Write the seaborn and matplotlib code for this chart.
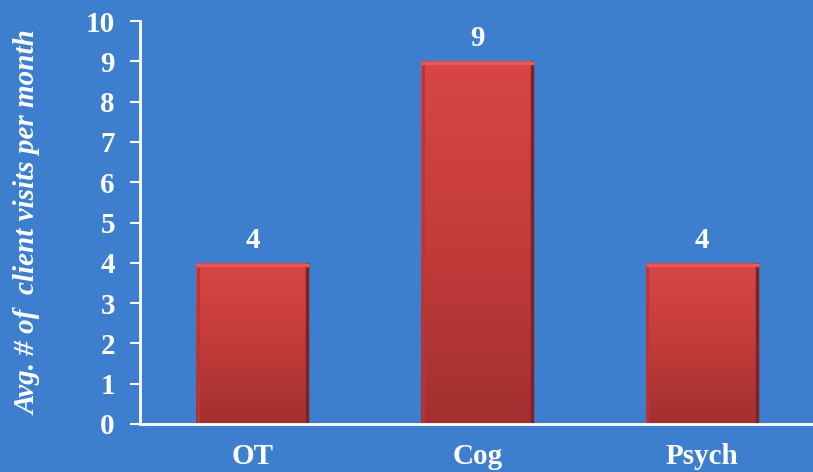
import numpy as np
import pandas as pd
import matplotlib
matplotlib.use("Agg")
import matplotlib.pyplot as plt
import seaborn as sns
from matplotlib.colors import LinearSegmentedColormap

# datos del grafico
categorias = ["OT", "Cog", "Psych"]
visitas = [4, 9, 4]
ticks_y = list(range(0, 11))

fondo = "#3D7FCE"
blanco = "white"

df = pd.DataFrame({"servicio": categorias, "visitas": visitas})

sns.set_theme(style="white")
plt.rcParams["font.family"] = ["Liberation Serif", "DejaVu Serif"]

fig = plt.figure(figsize=(8.13, 4.72), dpi=100, facecolor=fondo)
ax = fig.add_axes([0.1722, 0.1017, 0.8300, 0.8538])
ax.set_facecolor(fondo)

sns.barplot(data=df, x="servicio", y="visitas", color="#C83C3C", width=0.5,
            saturation=1, linewidth=0, ax=ax, zorder=2)

# degradado vertical dentro de cada barra
cmap = LinearSegmentedColormap.from_list("rojo", ["#A23030", "#C43B3B", "#D84646"])
grad = np.linspace(0, 1, 256).reshape(-1, 1)
for p in ax.patches:
    x0, y0 = p.get_x(), p.get_y()
    w, h = p.get_width(), p.get_height()
    img = ax.imshow(grad, cmap=cmap, origin="lower", aspect="auto",
                    extent=[x0, x0 + w, y0, y0 + h], zorder=3)
    img.set_clip_path(p)
    # sombra lateral y brillo superior
    ax.plot([x0 + w * 0.988, x0 + w * 0.988], [y0, y0 + h], color="#7E2222",
            lw=2.5, zorder=4, solid_capstyle="butt")
    ax.plot([x0 + w * 0.012, x0 + w * 0.012], [y0, y0 + h], color="#B33838",
            lw=2, zorder=4, solid_capstyle="butt")
    ax.plot([x0, x0 + w], [y0 + h - 0.05, y0 + h - 0.05], color="#E85858",
            lw=2.5, zorder=4, solid_capstyle="butt")
    ax.text(x0 + w / 2, y0 + h + 0.22, f"{int(h)}", ha="center", va="bottom",
            color=blanco, fontsize=21, fontweight="bold")

ax.set_xlim(-0.5, 2.5)
ax.set_ylim(0, 10)
ax.set_yticks(ticks_y)
ax.set_yticklabels([str(t) for t in ticks_y])

for lado in ["top", "right"]:
    ax.spines[lado].set_visible(False)
for lado in ["left", "bottom"]:
    ax.spines[lado].set_color(blanco)
    ax.spines[lado].set_linewidth(2)
    ax.spines[lado].set_zorder(5)

ax.tick_params(axis="y", colors=blanco, length=7, width=1.5, direction="out",
               left=True, labelsize=21, pad=11)
ax.tick_params(axis="x", colors=blanco, length=0, labelsize=21, pad=14)
for lbl in ax.get_xticklabels() + ax.get_yticklabels():
    lbl.set_fontweight("bold")

ax.set_xlabel("")
ax.set_ylabel("Avg. # of  client visits per month", color=blanco, fontsize=21,
              fontweight="bold", fontstyle="italic", labelpad=32)

fig.savefig("out.png", dpi=100, facecolor=fondo)
